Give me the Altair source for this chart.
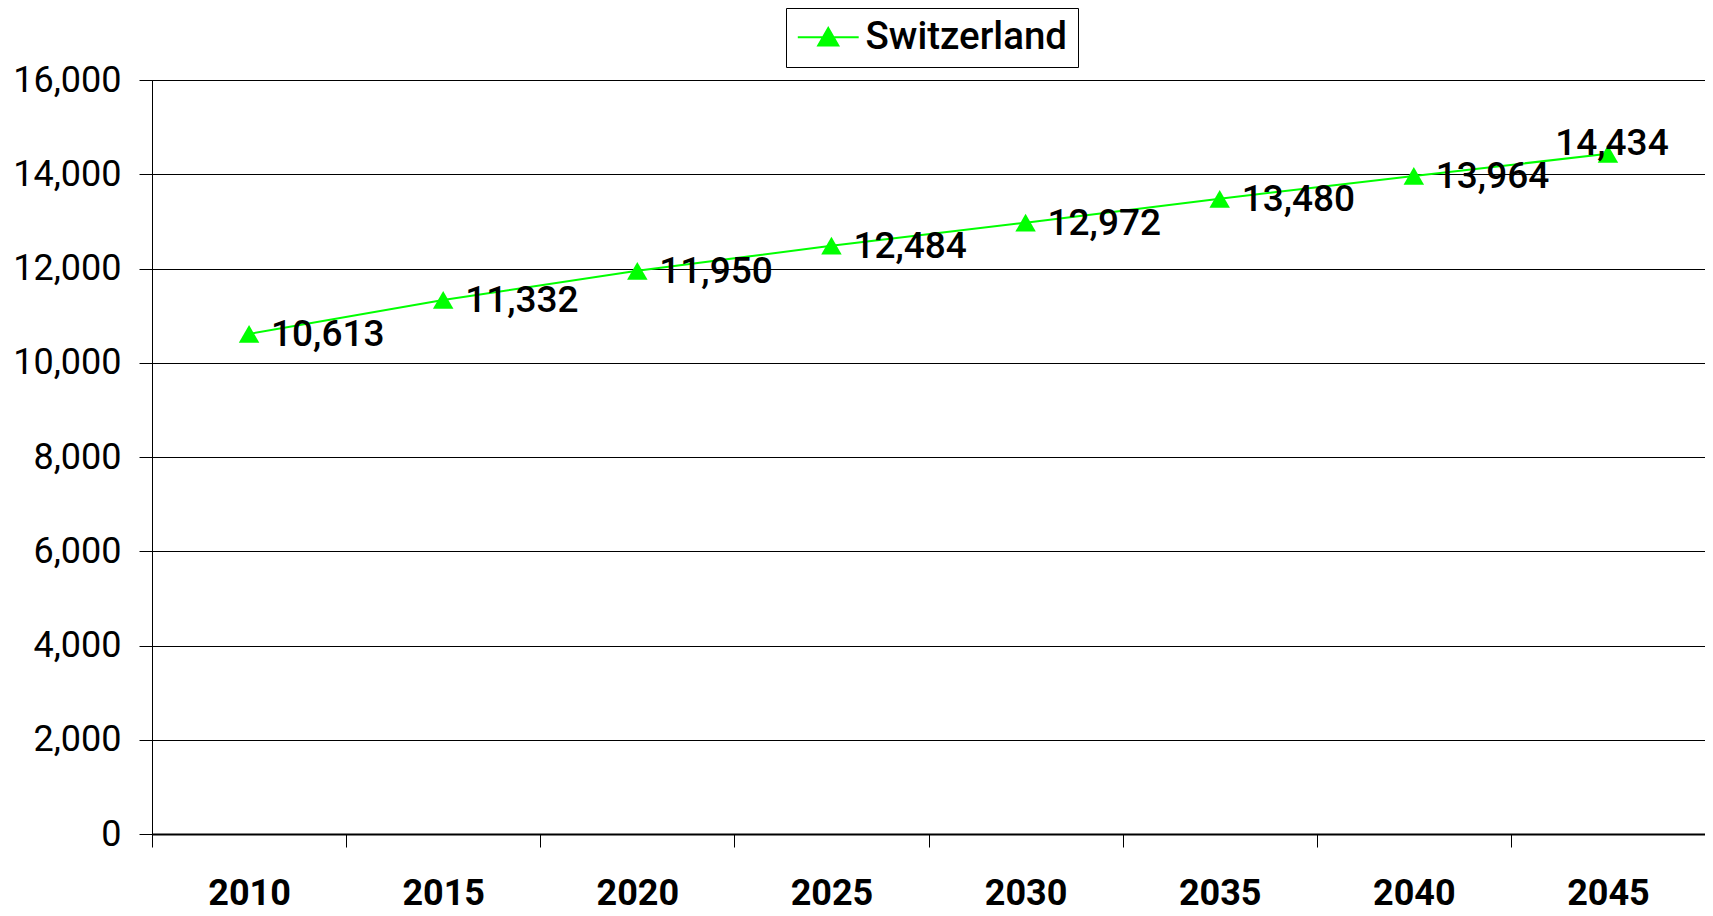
import altair as alt
import pandas as pd

years = ["2010", "2015", "2020", "2025", "2030", "2035", "2040", "2045"]
values = [10613, 11332, 11950, 12484, 12972, 13480, 13964, 14434]
series = ["Switzerland"] * len(years)
y_ticks = [0, 2000, 4000, 6000, 8000, 10000, 12000, 14000, 16000]

df = pd.DataFrame({"year": years, "value": values, "series": series})
df["last"] = [i == len(years) - 1 for i in range(len(years))]

FONT = "Roboto"
GREEN = "#00ff00"

x_enc = alt.X(
    "year:N",
    sort=years,
    scale=alt.Scale(paddingInner=0, paddingOuter=0),
    axis=alt.Axis(
        title=None, labelAngle=0, labelFontSize=36, labelFontWeight="bold",
        labelColor="black", labelFont=FONT, labelPadding=29,
        tickBand="extent", tickSize=13, tickColor="black", tickWidth=1,
        domainColor="black", domainWidth=2, grid=False,
    ),
)
y_enc = alt.Y(
    "value:Q",
    scale=alt.Scale(domain=[0, 16000], nice=False),
    axis=alt.Axis(
        title=None, values=y_ticks, format=",d", labelFontSize=36,
        labelColor="black", labelFont=FONT, labelPadding=18,
        tickSize=13, tickColor="black", domainColor="black", domainWidth=1,
        grid=True, gridColor="black", gridWidth=1, gridOpacity=1,
    ),
)
color_enc = alt.Color(
    "series:N",
    scale=alt.Scale(domain=["Switzerland"], range=[GREEN]),
    legend=alt.Legend(
        title=None, orient="none", legendX=634, legendY=-72,
        direction="horizontal",
        symbolType="M-2.03,0H2.03M-0.67,0.55L0,-0.62L0.67,0.55Z",
        symbolSize=900, symbolStrokeWidth=2, symbolStrokeColor=GREEN,
        symbolFillColor=GREEN, symbolOpacity=1, symbolOffset=13,
        labelFontSize=38.5, labelFont=FONT, labelFontWeight=500, labelColor="black",
        labelOffset=18, labelLimit=0, padding=10, strokeColor="black",
        fillColor="white",
    ),
)

base = alt.Chart(df)

line = base.mark_line(strokeWidth=2, color=GREEN).encode(x=x_enc, y=y_enc)
points = base.mark_point(shape="triangle-up", filled=True, size=420, opacity=1).encode(
    x=x_enc, y=y_enc, color=color_enc
)
labels = base.transform_filter("!datum.last").mark_text(
    align="left", baseline="middle", dx=22, dy=1, fontSize=37, fontWeight=500,
    font=FONT, color="black"
).encode(x=x_enc, y=y_enc, text=alt.Text("value:Q", format=",d"))
last_label = base.transform_filter("datum.last").mark_text(
    align="center", baseline="middle", dx=4, dy=-10, fontSize=37, fontWeight=500,
    font=FONT, color="black"
).encode(x=x_enc, y=y_enc, text=alt.Text("value:Q", format=",d"))

chart = alt.layer(line, points, labels, last_label).properties(
    width=1553, height=754,
    autosize=alt.AutoSizeParams(type="none"),
    padding={"left": 144, "top": 72, "right": 0, "bottom": 80},
).configure_view(stroke="black", strokeWidth=1)

chart.save("out.html", embed_options={"renderer": "svg", "actions": False})
